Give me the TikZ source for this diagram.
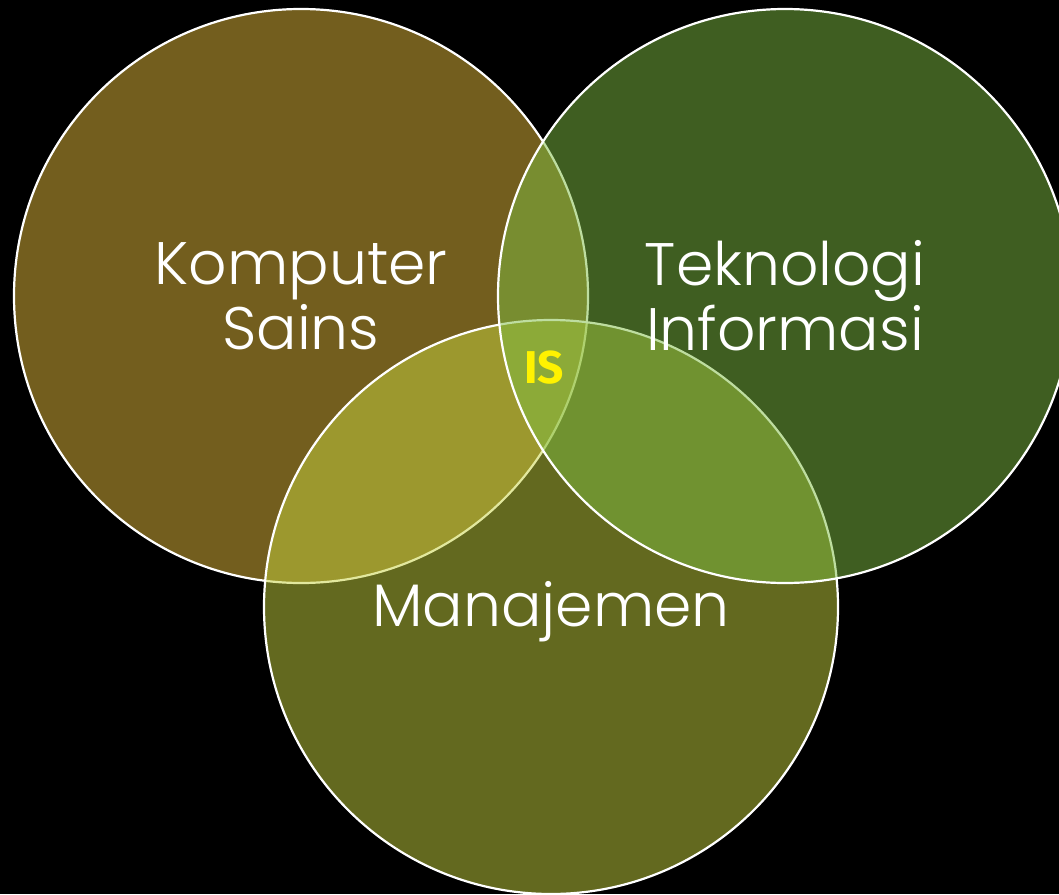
\documentclass[tikz,border=0pt]{standalone}
\usepackage{fontspec}
\setmainfont{Poppins Light}
\newfontfamily\isfont{Fira Sans}
\definecolor{sainsfill}{RGB}{230,188,60}
\definecolor{tifill}{RGB}{126,188,66}
\definecolor{manfill}{RGB}{198,210,62}
\begin{document}
\begin{tikzpicture}[x=1pt, y=-1pt,
	venn/.style={circle, draw=white, line width=2.2pt, fill opacity=0.5, text opacity=1,
		minimum size=574pt, inner sep=0pt, align=center, text=white,
		font=\fontsize{60}{65}\selectfont}]
		\fill[black] (0, 0) rectangle (1059, 894);
		\useasboundingbox (0, 0) rectangle (1059, 894);
		% circles: left, bottom, right
		\node[venn, fill=sainsfill] (sains) at (301, 296) {Komputer\\Sains};
		\node[venn, fill=manfill] (manajemen) at (551, 607) {};
		\node[venn, fill=tifill] (ti) at (785, 296) {Teknologi\\Informasi};
		\node[text=white, font=\fontsize{60}{65}\selectfont] (mantext) at (551, 612) {Manajemen};
		\node[text=yellow, font=\isfont\bfseries\fontsize{46}{46}\selectfont] (is) at (544, 368) {IS};
		\end{tikzpicture}
\end{document}
